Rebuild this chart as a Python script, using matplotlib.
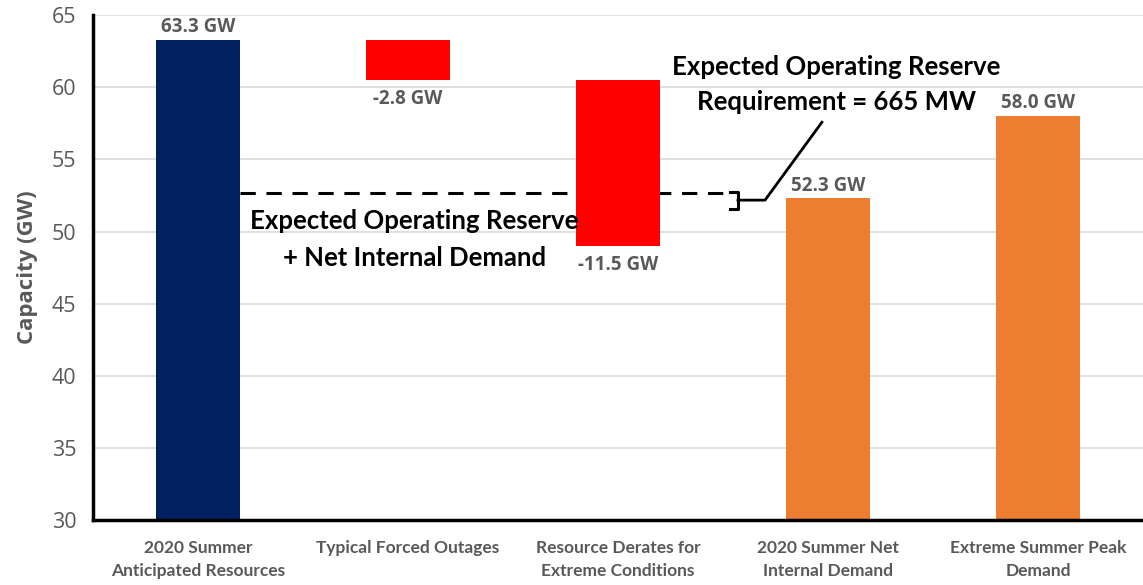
import numpy as np
import matplotlib.pyplot as plt

categories = ["2020 Summer\nAnticipated Resources", "Typical Forced Outages",
              "Resource Derates for\nExtreme Conditions", "2020 Summer Net\nInternal Demand",
              "Extreme Summer Peak\nDemand"]
start_value = 63.3
changes = [-2.8, -11.5]
demand_values = [52.3, 58.0]
reserve_line = 52.65
colors = ["#002060", "#FF0000", "#FF0000", "#ED7D31", "#ED7D31"]

grey = "#595959"
fig = plt.figure(figsize=(11.43, 5.85), dpi=100)
ax = fig.add_axes([0.0814, 0.111, 0.9186, 0.863])

x = np.arange(len(categories))
w = 0.4

# bottoms / heights of the waterfall
bottoms = [30]
heights = [start_value - 30]
level = start_value
for c in changes:
    bottoms.append(level + c)
    heights.append(-c)
    level += c
for d in demand_values:
    bottoms.append(30)
    heights.append(d - 30)

ax.bar(x, heights, bottom=bottoms, width=w, color=colors, zorder=2)

# value labels
lbl = dict(color=grey, fontsize=13.5, fontweight="bold", family="Open Sans", ha="center")
ax.text(x[0], start_value + 0.2, "%.1f GW" % start_value, va="bottom", **lbl)
level = start_value
for i, c in enumerate(changes):
    level += c
    ax.text(x[i + 1], level - 0.6, "%.1f GW" % c, va="top", **lbl)
for i, d in enumerate(demand_values):
    ax.text(x[i + 3], d + 0.2, "%.1f GW" % d, va="bottom", **lbl)

# reserve line and bracket
ax.plot([x[0] + w / 2, 2.533], [reserve_line, reserve_line], ls=(0, (5, 3.5)),
        color="black", lw=2.2, zorder=1)
ax.plot([2.533, 2.571, 2.571, 2.533], [52.75, 52.75, 51.56, 51.56], color="black", lw=2.2)
ax.plot([2.571, 2.70, 2.971], [52.18, 52.18, 57.58], color="black", lw=2)

note = dict(ha="center", va="center", fontsize=18.5, fontweight="bold", family="Lato")
ax.text(1.03, 50.7, "Expected Operating Reserve", **note)
ax.text(1.03, 48.2, "+ Net Internal Demand", **note)
ax.text(3.04, 61.4, "Expected Operating Reserve", **note)
ax.text(3.04, 59.0, "Requirement = 665 MW", **note)

ax.set_xlim(-0.5, 4.5)
ax.set_ylim(30, 65)
ax.set_yticks(np.arange(30, 66, 5))
ax.set_xticks(x)
ax.set_xticklabels(categories, fontsize=12.5, fontweight="bold", color=grey, family="Lato",
                   linespacing=1.55)
ax.tick_params(axis="both", length=0)
ax.tick_params(axis="x", pad=14)
ax.tick_params(axis="y", pad=12, labelsize=15.5, labelcolor=grey)
for lab in ax.get_yticklabels():
    lab.set_family("Open Sans")
ax.yaxis.grid(True, color="#d9d9d9", lw=1.2, zorder=0)
ax.set_axisbelow(True)
ax.set_ylabel("Capacity (GW)", fontsize=16, fontweight="bold", color=grey,
              family="Open Sans", labelpad=10)

for s in ["top", "right"]:
    ax.spines[s].set_visible(False)
ax.spines["left"].set_linewidth(2.5)
ax.spines["bottom"].set_linewidth(2.5)

fig.savefig("out.png", dpi=100)
